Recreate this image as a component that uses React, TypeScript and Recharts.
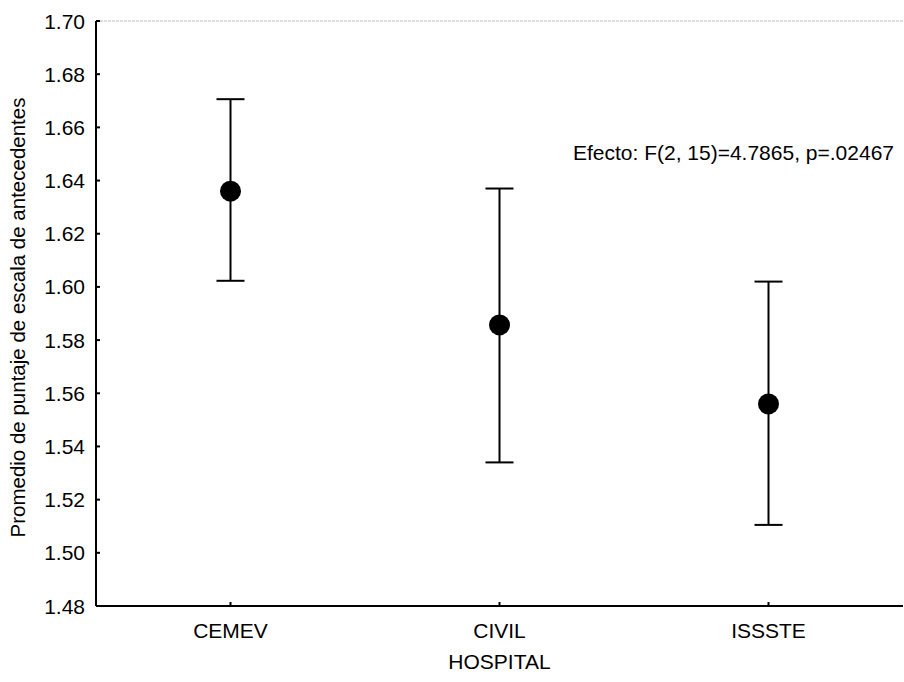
import { LineChart, Line, XAxis, YAxis, ErrorBar, ReferenceLine } from 'recharts';

const hospitals = ['CEMEV', 'CIVIL', 'ISSSTE'];
const means = [1.636, 1.5857, 1.556];
const lowerBounds = [1.6023, 1.534, 1.5105];
const upperBounds = [1.6706, 1.637, 1.602];
const yTicks = [1.48, 1.5, 1.52, 1.54, 1.56, 1.58, 1.6, 1.62, 1.64, 1.66, 1.68, 1.7];

const data = hospitals.map((h, i) => ({
  hospital: h,
  mean: means[i],
  err: [means[i] - lowerBounds[i], upperBounds[i] - means[i]],
}));

const FONT = '"Liberation Sans", Arial, sans-serif';
const FS = 21;

const XTick = ({ x, y, payload }: any) => (
  <g>
    <line x1={x} x2={x} y1={y - 4} y2={y} stroke="#000" strokeWidth={2} />
    <text x={x} y={y + 32} textAnchor="middle" fontSize={FS} fill="#000" fontFamily={FONT}>
      {payload.value}
    </text>
  </g>
);

const YTick = ({ x, y, payload }: any) => (
  <g>
    <line x1={x} x2={x + 4} y1={y} y2={y} stroke="#000" strokeWidth={2} />
    <text x={x - 11} y={y + 7.5} textAnchor="end" fontSize={FS} fill="#000" fontFamily={FONT}>
      {Number(payload.value).toFixed(2)}
    </text>
  </g>
);

export default function App() {
  return (
    <div style={{ position: 'absolute', left: 0, top: 0, width: 904, height: 682, background: '#fff' }}>
      <LineChart width={904} height={682} data={data} margin={{ top: 21, right: 1, bottom: 0, left: 0 }}>
        <ReferenceLine y={1.7} stroke="#bbb" strokeDasharray="3 1" strokeWidth={1} />
        <XAxis
          dataKey="hospital"
          padding={{ left: 134.5, right: 134.5 }}
          height={76}
          tickSize={0}
          tickMargin={0}
          tickLine={false}
          axisLine={{ stroke: '#000', strokeWidth: 2 }}
          tick={<XTick />}
          label={{ value: 'HOSPITAL', position: 'insideBottom', offset: 13, fontSize: FS, fill: '#000', fontFamily: FONT }}
        />
        <YAxis
          domain={[1.48, 1.7]}
          ticks={yTicks}
          width={96}
          tickSize={0}
          tickMargin={0}
          tickLine={false}
          axisLine={{ stroke: '#000', strokeWidth: 2 }}
          tick={<YTick />}
          label={{
            value: 'Promedio de puntaje de escala de antecedentes',
            angle: -90,
            position: 'center',
            dx: -30,
            dy: 4,
            fontSize: 20.5,
            fill: '#000',
            fontFamily: FONT,
          }}
        />
        <Line
          dataKey="mean"
          stroke="none"
          isAnimationActive={false}
          dot={{ r: 10.5, fill: '#000', stroke: 'none' }}
          activeDot={false}
        >
          <ErrorBar dataKey="err" width={14} strokeWidth={2} stroke="#000" direction="y" />
        </Line>
        <text x={894} y={160} textAnchor="end" fontSize={FS} fill="#000" fontFamily={FONT}>
          Efecto: F(2, 15)=4.7865, p=.02467
        </text>
      </LineChart>
    </div>
  );
}
